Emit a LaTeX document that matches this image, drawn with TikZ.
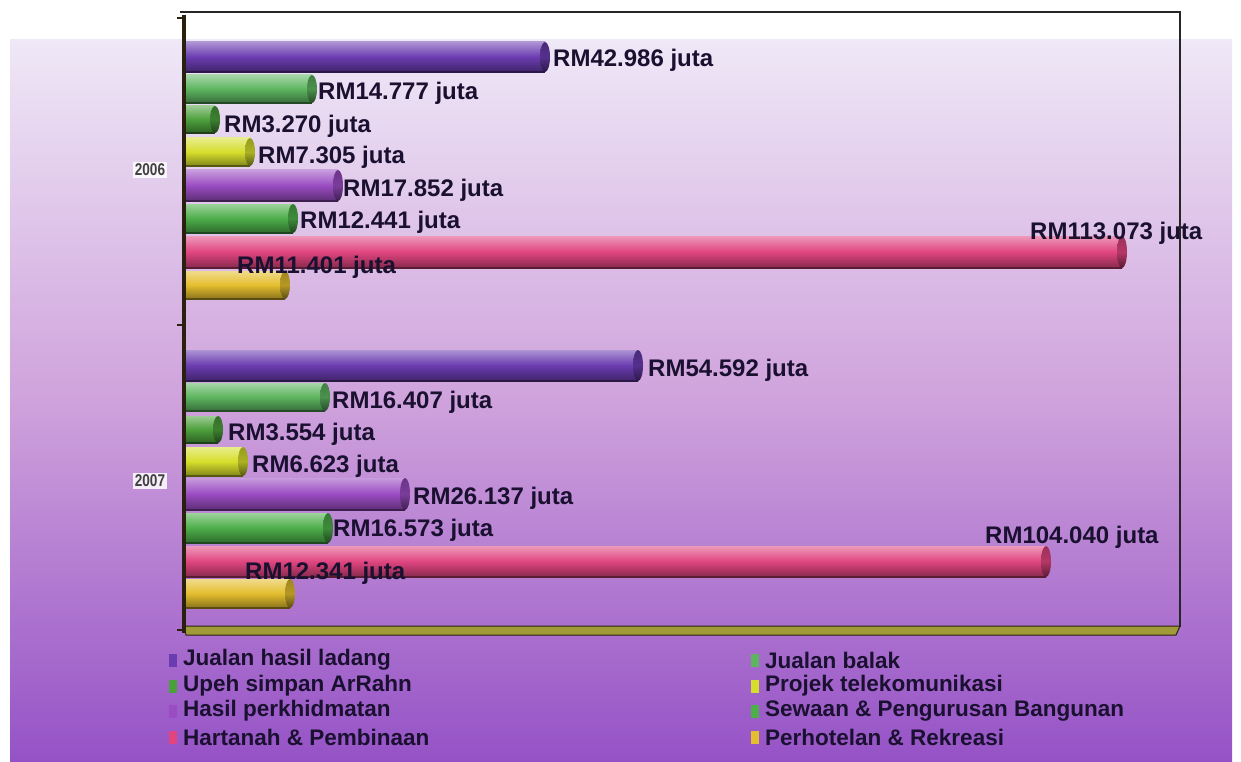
\documentclass[tikz,border=0pt]{standalone}
\usepackage{fontspec}
\setmainfont{Liberation Sans}
\usetikzlibrary{shapes.geometric}
\definecolor{bgtop}{HTML}{EFE8F7}
\definecolor{bgmid}{HTML}{CFA2DC}
\definecolor{bgbot}{HTML}{9552C6}
\definecolor{ink}{HTML}{1A1030}
\definecolor{axisc}{HTML}{2A2010}
\definecolor{floorc}{HTML}{A09A38}
% bar colours
\definecolor{cA}{HTML}{6A3CB0}
\definecolor{cB}{HTML}{5DB560}
\definecolor{cC}{HTML}{4CA03C}
\definecolor{cD}{HTML}{D6DE2C}
\definecolor{cE}{HTML}{9A4CC2}
\definecolor{cF}{HTML}{4DAE4A}
\definecolor{cG}{HTML}{E0457F}
\definecolor{cH}{HTML}{E4BE2E}
\tikzset{
  vallabel/.style={anchor=west, inner sep=0pt, font=\fontsize{24}{26}\selectfont\bfseries, text=ink},
  legtext/.style={anchor=west, inner sep=0pt, font=\fontsize{22.5}{24}\selectfont\bfseries, text=ink},
  yearlabel/.style={anchor=center, inner sep=1.5pt, fill=white, fill opacity=0.85, text opacity=1, font=\fontsize{17}{19}\selectfont\bfseries, text=black!75},
  legmark/.style={minimum width=8pt, minimum height=13pt, inner sep=0pt},
}
% \cbar{colour}{top}{bottom}{end x}
\newcommand{\cbar}[4]{%
  \shade[top color=#1!55!white, bottom color=#1!60!black, middle color=#1] (184,#2) rectangle (#4,#3);
  \draw[#1!40!black, line width=1.2pt] (184,#3) -- (#4,#3);
  \pgfmathsetmacro{\cbmid}{(#2+#3)/2}
  \pgfmathsetmacro{\cbr}{(#3-#2)/2}
  \shade[top color=#1!70!black, bottom color=#1!40!black, middle color=#1!80!black] (#4,\cbmid) ellipse [x radius=5, y radius=\cbr];
}
\begin{document}
\begin{tikzpicture}[x=1pt,y=-1pt]
\useasboundingbox (0,0) rectangle (1241,762);
\fill[white] (0,0) rectangle (1241,762);
\shade[top color=bgtop, bottom color=bgbot, middle color=bgmid] (10,40) rectangle (1232,762);
% frame
\draw[black!85, line width=1.3pt] (180,12) -- (1180,12) -- (1180,627);
% floor
\draw[axisc, fill=floorc, line width=1pt] (184,626) -- (1180,626) -- (1176,635) -- (186,635) -- cycle;
% bars 2006
\cbar{cA}{42}{72}{545}
\cbar{cB}{75}{103}{312}
\cbar{cC}{106}{133}{215}
\cbar{cD}{138}{166}{250}
\cbar{cE}{170}{201}{338}
\cbar{cF}{204}{233}{293}
\cbar{cG}{236}{268}{1122}
\cbar{cH}{271}{299}{285}
% bars 2007
\cbar{cA}{350}{381}{638}
\cbar{cB}{383}{411}{325}
\cbar{cC}{416}{443}{218}
\cbar{cD}{447}{476}{243}
\cbar{cE}{478}{510}{405}
\cbar{cF}{513}{543}{328}
\cbar{cG}{546}{577}{1046}
\cbar{cH}{579}{608}{290}
% left axis
\draw[axisc, line width=4pt] (184,15) -- (184,633);
\draw[axisc, line width=1.2pt] (177,18) -- (184,18);
\draw[axisc, line width=1.2pt] (177,325) -- (184,325);
\draw[axisc, line width=1.2pt] (177,630) -- (184,630);
% value labels 2006
\node[vallabel] (l1) at (553,60) {RM42.986 juta};
\node[vallabel] (l2) at (318,93) {RM14.777 juta};
\node[vallabel] (l3) at (224,126) {RM3.270 juta};
\node[vallabel] (l4) at (258,157) {RM7.305 juta};
\node[vallabel] (l5) at (343,190) {RM17.852 juta};
\node[vallabel] (l6) at (300,222) {RM12.441 juta};
\node[vallabel] (l7) at (1030,233) {RM113.073 juta};
\node[vallabel] (l8) at (237,267) {RM11.401 juta};
% value labels 2007
\node[vallabel] (m1) at (648,370) {RM54.592 juta};
\node[vallabel] (m2) at (332,402) {RM16.407 juta};
\node[vallabel] (m3) at (228,434) {RM3.554 juta};
\node[vallabel] (m4) at (252,466) {RM6.623 juta};
\node[vallabel] (m5) at (413,498) {RM26.137 juta};
\node[vallabel] (m6) at (333,530) {RM16.573 juta};
\node[vallabel] (m7) at (985,537) {RM104.040 juta};
\node[vallabel] (m8) at (245,573) {RM12.341 juta};
% year labels
\node[yearlabel] (y6) at (150,170) {\scalebox{0.8}[1]{2006}};
\node[yearlabel] (y7) at (150,481) {\scalebox{0.8}[1]{2007}};
% legend
\node[legmark, fill=cA] (k1) at (173,660) {};
\node[legmark, fill=cC] (k2) at (173,686) {};
\node[legmark, fill=cE] (k3) at (173,711) {};
\node[legmark, fill=cG] (k4) at (173,737) {};
\node[legtext] (t1) at (183,660) {Jualan hasil ladang};
\node[legtext] (t2) at (183,686) {Upeh simpan ArRahn};
\node[legtext] (t3) at (183,711) {Hasil perkhidmatan};
\node[legtext] (t4) at (183,737) {Hartanah \& Pembinaan};
\node[legmark, fill=cB] (k5) at (755,660) {};
\node[legmark, fill=cD] (k6) at (755,686) {};
\node[legmark, fill=cF] (k7) at (755,711) {};
\node[legmark, fill=cH] (k8) at (755,737) {};
\node[legtext] (t5) at (765,660) {Jualan balak};
\node[legtext] (t6) at (765,686) {Projek telekomunikasi};
\node[legtext] (t7) at (765,711) {Sewaan \& Pengurusan Bangunan};
\node[legtext] (t8) at (765,737) {Perhotelan \& Rekreasi};
\end{tikzpicture}
\end{document}
